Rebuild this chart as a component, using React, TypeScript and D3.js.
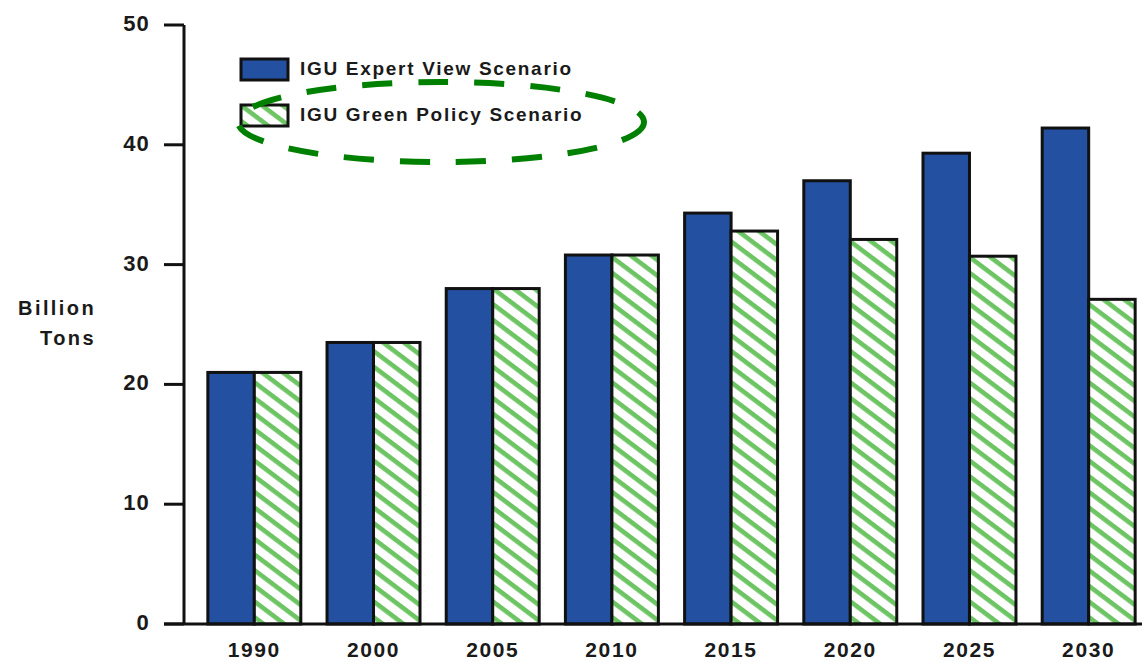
import React from "react";
import * as d3 from "d3";

// Carbon emission outlook, billion tons
const years = ["1990", "2000", "2005", "2010", "2015", "2020", "2025", "2030"];
const expertView = [21.0, 23.5, 28.0, 30.8, 34.3, 37.0, 39.3, 41.4];
const greenPolicy = [21.0, 23.5, 28.0, 30.8, 32.8, 32.1, 30.7, 27.1];
const yTicks = [0, 10, 20, 30, 40, 50];
const seriesKeys = ["expert", "green"];
const seriesLabels = ["IGU Expert View Scenario", "IGU Green Policy Scenario"];

const W = 1142;
const H = 662;
const FONT = "'Liberation Sans', Arial, Helvetica, sans-serif";
const BLUE = "#2350A0";
const GREEN = "#6CC462";
const INK = "#1a1a1a";

export default function App() {
  const x = d3
    .scaleBand<string>()
    .domain(years)
    .range([184, 1159])
    .paddingInner(0.22)
    .paddingOuter(0.2);
  const xs = d3.scaleBand<string>().domain(seriesKeys).range([0, x.bandwidth()]);
  const y = d3.scaleLinear().domain([0, 50]).range([624, 25]);

  const rows = years.map((yr, i) => ({ yr, values: [expertView[i], greenPolicy[i]] }));

  return (
    <div style={{ position: "fixed", left: 0, top: 0, width: W, height: H, background: "#fff" }}>
      <svg width={W} height={H} style={{ display: "block" }} fontFamily={FONT}>
        <defs>
          <pattern
            id="hatch"
            patternUnits="userSpaceOnUse"
            width={12.5}
            height={12.5}
            patternTransform="rotate(37)"
          >
            <rect width={12.5} height={12.5} fill="#fff" />
            <rect y={0} width={12.5} height={4.6} fill={GREEN} />
          </pattern>
        </defs>

        {/* bars */}
        {rows.map((r) => (
          <g key={r.yr} transform={`translate(${x(r.yr)},0)`}>
            {r.values.map((v, j) => (
              <rect
                key={j}
                x={xs(seriesKeys[j])}
                y={y(v)}
                width={xs.bandwidth()}
                height={y(0) - y(v)}
                fill={j === 0 ? BLUE : "url(#hatch)"}
                stroke="#111"
                strokeWidth={3}
              />
            ))}
          </g>
        ))}

        {/* y axis */}
        <line x1={184} x2={184} y1={y(50)} y2={y(0)} stroke="#111" strokeWidth={3} />
        {yTicks.map((t) => (
          <g key={t}>
            <line x1={164} x2={184} y1={y(t)} y2={y(t)} stroke="#111" strokeWidth={3} />
            <text
              x={150}
              y={y(t) - 1.5}
              textAnchor="end"
              dominantBaseline="central"
              fontSize={22}
              fontWeight="bold"
              letterSpacing={1.2}
              fill={INK}
            >
              {t}
            </text>
          </g>
        ))}

        {/* x axis */}
        <line x1={164} x2={W} y1={y(0)} y2={y(0)} stroke="#111" strokeWidth={3} />
        {years.map((yr) => (
          <text
            key={yr}
            x={(x(yr) as number) + x.bandwidth() / 2}
            y={657}
            textAnchor="middle"
            fontSize={21}
            fontWeight="bold"
            letterSpacing={1.6}
            fill={INK}
          >
            {yr}
          </text>
        ))}

        {/* y axis title */}
        <text textAnchor="end" fontSize={20} fontWeight="bold" letterSpacing={2.4} fill={INK}>
          <tspan x={96} y={315}>Billion</tspan>
          <tspan x={96} y={345}>Tons</tspan>
        </text>

        {/* legend */}
        {seriesLabels.map((lbl, i) => (
          <g key={lbl} transform={`translate(0,${i * 46})`}>
            <rect
              x={241}
              y={59}
              width={47}
              height={21}
              fill={i === 0 ? BLUE : "url(#hatch)"}
              stroke="#111"
              strokeWidth={3}
            />
            <text
              x={300}
              y={68}
              dominantBaseline="central"
              fontSize={19}
              fontWeight="bold"
              letterSpacing={1.7}
              fill={INK}
            >
              {lbl}
            </text>
          </g>
        ))}

        {/* highlight around the green policy entry */}
        <ellipse
          cx={441}
          cy={122}
          rx={203}
          ry={40}
          fill="none"
          stroke="#008000"
          strokeWidth={6}
          strokeDasharray="30 26"
        />
      </svg>
    </div>
  );
}
